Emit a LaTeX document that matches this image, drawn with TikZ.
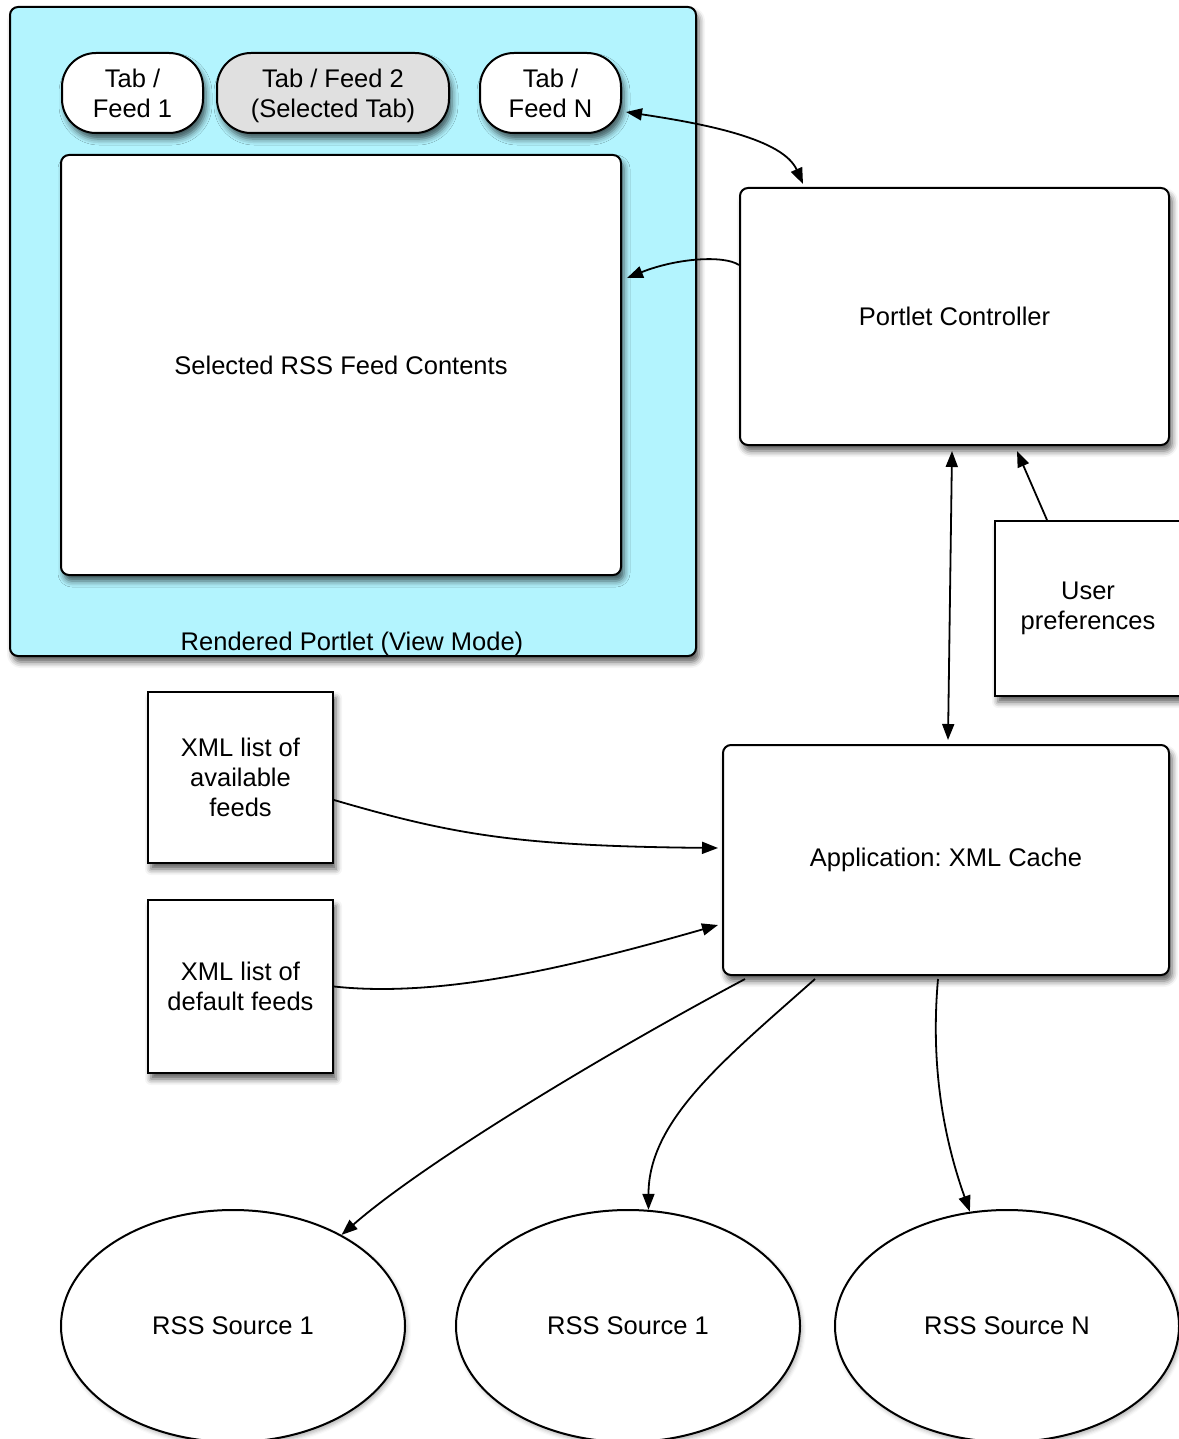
\documentclass[tikz,border=0pt]{standalone}
\usepackage{fontspec}
\setmainfont{Liberation Sans}
\usetikzlibrary{arrows.meta,shapes.geometric,shadows.blur,calc}

\definecolor{portletblue}{HTML}{B3F4FE}
\definecolor{tabgray}{HTML}{E0E0E0}

\tikzset{
    softshadow/.style={blur shadow={shadow xshift=3pt, shadow yshift=-6pt, shadow blur radius=6pt, shadow opacity=65}},
    box/.style={draw=black, line width=2pt, fill=white, inner sep=0pt, align=center, softshadow},
    roundbox/.style={box, rounded corners=8pt},
    tabbox/.style={box, rounded corners=34pt, minimum height=80pt},
    source/.style={ellipse, draw=black, line width=2pt, fill=white, inner sep=0pt,
        minimum width=344pt, minimum height=232pt,
        blur shadow={shadow xshift=2pt, shadow yshift=-3pt, shadow blur radius=4pt, shadow opacity=30}},
    link/.style={line width=1.8pt, -{Triangle[length=16pt,width=12pt]}},
    bilink/.style={line width=1.8pt, {Triangle[length=16pt,width=12pt]}-{Triangle[length=16pt,width=12pt]}}
}

\begin{document}
\frenchspacing
\begin{tikzpicture}[x=1pt, y=-1pt, font=\fontsize{25.5}{30}\selectfont]
    \useasboundingbox (0,0) rectangle (1178,1439);

    % rendered portlet
    \node [roundbox, fill=portletblue, minimum width=686pt, minimum height=649pt] (portlet) at (353,331.5) {};
    \node [anchor=base] (portletLabel) at (352,650) {Rendered Portlet (View Mode)};
    \node [tabbox, minimum width=141pt] (tabA) at (132.5,93) {Tab /\\Feed 1};
    \node [tabbox, fill=tabgray, minimum width=232pt, text depth=0pt] (tabB) at (333,93) {Tab / Feed 2\\(Selected Tab)};
    \node [tabbox, minimum width=141pt] (tabN) at (550.5,93) {Tab /\\Feed N};
    \node [roundbox, minimum width=560pt, minimum height=420pt] (contents) at (341,365) {Selected RSS Feed Contents};

    % controller side
    \node [roundbox, minimum width=429pt, minimum height=257pt] (ctrl) at (954.5,316.5) {Portlet Controller};
    \node [box, minimum width=186pt, minimum height=175pt] (prefs) at (1088,608.5) {User\\preferences};
    \node [roundbox, minimum width=446pt, minimum height=230pt] (cache) at (946,860) {Application: XML Cache};
    \node [box, minimum width=185pt, minimum height=171pt] (xmlAvail) at (240.5,777.5) {XML list of\\available\\feeds};
    \node [box, minimum width=185pt, minimum height=173pt] (xmlDefault) at (240.5,986.5) {XML list of\\default feeds};

    % sources
    \node [source] (srcA) at (233,1326) {RSS Source 1};
    \node [source] (srcB) at (628,1326) {RSS Source 1};
    \node [source] (srcN) at (1007,1326) {RSS Source N};

    \draw [bilink] ($(tabN.east)+(4,19)$) .. controls +(80,12) and +(-20,-45) .. ($(ctrl.north)+(-151.5,-3)$);
    \draw [link] ($(ctrl.west)+(0,-51.5)$) .. controls +(-15,-10) and +(50,-20) .. ($(contents.east)+(5,-87)$);
    \draw [bilink] ($(ctrl.south)+(-2.5,5)$) -- ($(cache.north)+(2,-4)$);
    \draw [link] ($(prefs.north)+(-41,0)$) -- ($(ctrl.south)+(62.5,5)$);
    \draw [link] ($(xmlAvail.east)+(0,22.5)$) .. controls +(120,35) and +(-200,-2) .. ($(cache.west)+(-4,-12)$);
    \draw [link] (xmlDefault.east) .. controls +(110,12) and +(-140,40) .. ($(cache.west)+(-4,65)$);
    \draw [link] ($(cache.south)+(-201,3)$) .. controls +(-150,80) and +(80,-70) .. (srcA.40);
    \draw [link] ($(cache.south)+(-131,3)$) .. controls +(-90,80) and +(0,-90) .. (srcB.80);
    \draw [link] ($(cache.south)+(-8,3)$) .. controls +(-8,90) and +(-25,-70) .. (srcN.108);
\end{tikzpicture}
\end{document}
